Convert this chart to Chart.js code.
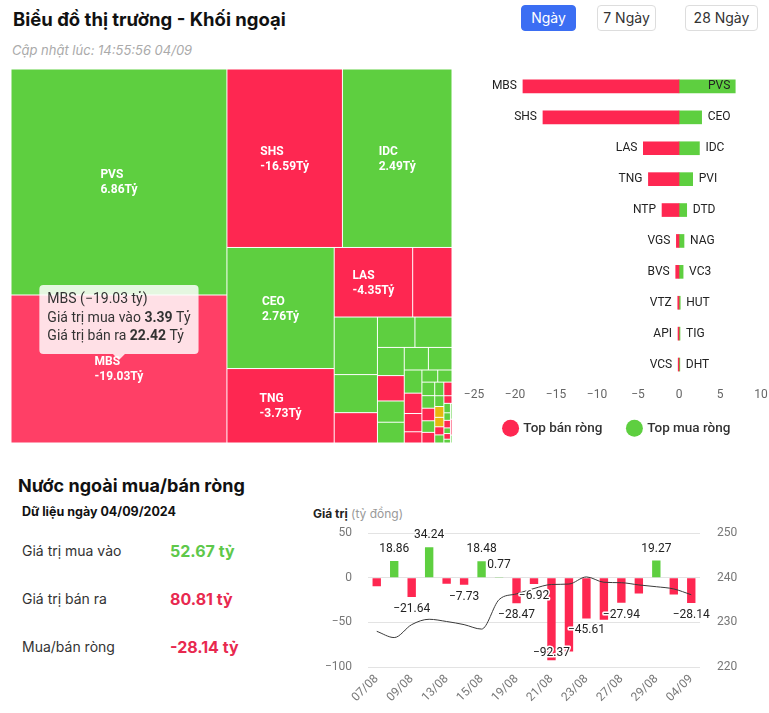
<!DOCTYPE html>
<html>
<head>
<meta charset="utf-8">
<script src="https://cdn.jsdelivr.net/npm/chart.js"></script>
<style>
html,body{margin:0;padding:0;background:#fff;width:769px;height:713px;overflow:hidden;font-family:Inter,"Noto Sans",sans-serif;}
.abs{position:absolute;white-space:nowrap;}
#title{left:13px;top:8px;font-size:18.5px;line-height:22px;font-weight:700;color:#111;}
#updated{left:12px;top:42px;font-size:13px;line-height:16px;font-style:italic;color:#aaa;}
.btn{position:absolute;top:5px;height:26px;line-height:24px;border:1px solid #ddd;border-radius:4px;font-size:14px;color:#333;text-align:center;box-sizing:border-box;background:#fff;}
.btn.active{background:#3b6ef3;border-color:#3b6ef3;color:#fff;}
canvas{position:absolute;}
#h2{left:18px;top:475px;font-size:18px;line-height:22px;font-weight:700;color:#111;}
#asof{left:22px;top:504px;font-size:12.5px;line-height:16px;font-weight:700;color:#111;}
.lbl{left:22px;font-size:14px;line-height:18px;color:#333;}
.val{left:170px;font-size:16px;line-height:20px;font-weight:700;}
#ctitle{left:313px;top:506px;font-size:12px;line-height:16px;color:#999;}
#ctitle b{color:#222;}
</style>
</head>
<body>
<div id="title" class="abs">Biểu đồ thị trường - Khối ngoại</div>
<div id="updated" class="abs">Cập nhật lúc: 14:55:56 04/09</div>
<div class="btn active" style="left:521px;width:55px;">Ngày</div>
<div class="btn" style="left:597px;width:59px;">7 Ngày</div>
<div class="btn" style="left:685px;width:73px;">28 Ngày</div>

<canvas id="tm" width="460" height="390" style="left:0;top:60px;width:460px;height:390px;"></canvas>
<canvas id="top" width="307" height="380" style="left:462px;top:65px;width:307px;height:380px;"></canvas>

<div id="h2" class="abs">Nước ngoài mua/bán ròng</div>
<div id="asof" class="abs"></div>
<div class="abs lbl" style="top:542px;">Giá trị mua vào</div>
<div class="abs lbl" style="top:590px;">Giá trị bán ra</div>
<div class="abs lbl" style="top:638px;">Mua/bán ròng</div>
<div id="vBuy" class="abs val" style="top:541px;color:#5ec84a;"></div>
<div id="vSell" class="abs val" style="top:589px;color:#e8294f;"></div>
<div id="vNet" class="abs val" style="top:637px;"></div>
<div id="ctitle" class="abs"><b>Giá trị</b> (tỷ đồng)</div>
<canvas id="flow" width="464" height="204" style="left:305px;top:509px;width:464px;height:204px;"></canvas>

<script>
// ================= DATA =================
// Treemap: ticker, total traded value (tỷ), net value (tỷ)
const tmTickers = ['PVS','MBS','SHS','IDC','CEO','TNG','LAS','NTP','PVI','DTD','BVS','NAG','VC3','HUT','VGS','TIG','DHT','PLC','L14','IDJ','VTZ','API','VCS','DL1','PVC','MST','SLS','NVB','PSD','S99','TVD','HLD','SCG','VNR','BCC','CSC','AMV','EVS','KLF','NBC','HHC','THD','TDN','NDN','VIG','WCS','DXP'];
const tmTotal = [39.41,25.81,16.65,15.79,10.49,6.45,4.41,2.21,2.01,1.33,1.06,0.92,0.91,0.61,0.55,0.46,0.45,0.44,0.43,0.33,0.29,0.26,0.16,0.155,0.14,0.14,0.13,0.13,0.12,0.11,0.10,0.09,0.08,0.08,0.07,0.06,0.06,0.05,0.05,0.04,0.04,0.03,0.03,0.02,0.02,0.02,0.01];
const tmNet = [6.86,-19.03,-16.59,2.49,2.76,-3.73,-4.35,-2.07,1.67,0.94,-0.40,0.60,0.50,0.15,-0.35,0.12,0.10,0.08,0.07,0.06,-0.15,-0.12,-0.10,0.05,0.04,0.03,0.02,-0.03,0.02,-0.02,0.02,-0.02,0.01,0,0,-0.01,0.01,-0.01,0.01,0.01,-0.01,0.01,-0.01,0.01,0.01,-0.01,0.01];
const hoveredTicker = 'MBS';

// Top net sellers / buyers
const sellTickers = ['MBS','SHS','LAS','TNG','NTP','VGS','BVS','VTZ','API','VCS'];
const sellValues = [-19.03,-16.59,-4.35,-3.73,-2.07,-0.32,-0.40,-0.15,-0.12,-0.10];
const buyTickers = ['PVS','CEO','IDC','PVI','DTD','NAG','VC3','HUT','TIG','DHT'];
const buyValues = [6.86,2.76,2.49,1.67,0.94,0.61,0.50,0.15,0.12,0.10];

// Daily foreign net flow
const dates = ['07/08','08/08','09/08','12/08','13/08','14/08','15/08','16/08','19/08','20/08','21/08','22/08','23/08','26/08','27/08','28/08','29/08','30/08','04/09'];
const netValues = [-9.42,18.86,-21.64,34.24,-6.81,-7.73,18.48,0.77,-28.47,-6.92,-92.37,-82.65,-45.61,-47.02,-27.94,-17.73,19.27,-18.84,-28.14];
const indexValues = [228.0,226.6,229.5,230.7,230.2,229.5,228.5,235.1,236.4,237.6,238.5,238.6,240.2,239.0,238.9,238.4,238.0,237.5,236.2];
const showLabel = [false,true,true,true,false,true,true,true,true,true,true,false,true,false,true,false,true,false,true];

const dataDate = '04/09/2024';
const buyToday = 52.67;
const sellToday = 80.81;

// ================= STYLE =================
const RED = '#fe2751';
const GREEN = '#5ecf40';
const YELLOW = '#e6b80f';
const HOVER_RED = '#ff3f66';
Chart.defaults.font.family = "Roboto, 'Noto Sans', sans-serif";
Chart.defaults.color = '#666';
const minus = s => String(s).replace('-', '\u2212');

// ---- left panel text ----
document.getElementById('asof').textContent = 'Dữ liệu ngày ' + dataDate;
document.getElementById('vBuy').textContent = buyToday.toFixed(2) + ' tỷ';
document.getElementById('vSell').textContent = sellToday.toFixed(2) + ' tỷ';
const netToday = buyToday - sellToday;
const vNet = document.getElementById('vNet');
vNet.textContent = netToday.toFixed(2) + ' tỷ';
vNet.style.color = netToday >= 0 ? '#5ec84a' : '#e8294f';

// ================= TREEMAP =================
function worst(row, side) {
  const s = row.reduce((a, b) => a + b, 0);
  const mx = Math.max(...row), mn = Math.min(...row);
  const s2 = s * s, f = side * side;
  return Math.max(f * mx / s2, s2 / (f * mn));
}
function squarify(values, x, y, w, h) {
  const total = values.reduce((a, b) => a + b, 0);
  const k = (w * h) / total;
  const areas = values.map(v => v * k);
  const rects = [];
  const r = { x, y, w, h };
  let i = 0, vertical = true;
  while (i < areas.length) {
    const side = vertical ? r.h : r.w;
    let row = [], best = Infinity;
    while (i < areas.length) {
      const cand = row.concat([areas[i]]);
      const s = worst(cand, side);
      if (row.length === 0 || s <= best) { row = cand; best = s; i++; } else break;
    }
    const sum = row.reduce((a, b) => a + b, 0);
    const thick = sum / side;
    let off = 0;
    row.forEach(a => {
      const len = a / thick;
      if (vertical) rects.push({ x: r.x, y: r.y + off, w: thick, h: len });
      else rects.push({ x: r.x + off, y: r.y, w: len, h: thick });
      off += len;
    });
    if (vertical) { r.x += thick; r.w -= thick; } else { r.y += thick; r.h -= thick; }
    vertical = !vertical;
  }
  return rects;
}

const treemapPlugin = {
  id: 'treemap',
  afterDatasetsDraw(chart) {
    const ctx = chart.ctx;
    const xs = chart.scales.x, ys = chart.scales.y;
    const X0 = xs.getPixelForValue(0), X1 = xs.getPixelForValue(1);
    const Y0 = ys.getPixelForValue(1), Y1 = ys.getPixelForValue(0);
    const order = tmTotal.map((v, i) => i).sort((a, b) => tmTotal[b] - tmTotal[a]);
    const rects = squarify(order.map(i => tmTotal[i]), X0, Y0, X1 - X0, Y1 - Y0);
    ctx.save();
    let hoverRect = null, hoverIdx = -1;
    rects.forEach((rc, k) => {
      const i = order[k];
      const net = tmNet[i];
      let col = net > 0 ? GREEN : (net < 0 ? RED : YELLOW);
      if (tmTickers[i] === hoveredTicker) { col = HOVER_RED; hoverRect = rc; hoverIdx = i; }
      ctx.fillStyle = col;
      ctx.fillRect(rc.x + 0.5, rc.y + 0.5, rc.w - 1, rc.h - 1);
    });
    // labels
    ctx.font = 'bold 12px Roboto, sans-serif';
    ctx.fillStyle = '#fff';
    ctx.textBaseline = 'middle';
    ctx.textAlign = 'left';
    rects.forEach((rc, k) => {
      const i = order[k];
      const l1 = tmTickers[i], l2 = tmNet[i].toFixed(2) + 'Tỷ';
      const tw = Math.max(ctx.measureText(l1).width, ctx.measureText(l2).width);
      if (tw + 8 > rc.w || 36 > rc.h) return;
      const cx = rc.x + rc.w / 2, cy = rc.y + rc.h / 2;
      ctx.fillText(l1, cx - tw / 2, cy - 6.5);
      ctx.fillText(l2, cx - tw / 2, cy + 8.5);
    });
    // tooltip for the hovered cell
    if (hoverRect) {
      const net = tmNet[hoverIdx], tot = tmTotal[hoverIdx];
      const buy = (tot + net) / 2, sell = (tot - net) / 2;
      const lines = [
        [[tmTickers[hoverIdx] + ' (' + minus(net.toFixed(2)) + ' tỷ)', false]],
        [['Giá trị mua vào ', false], [buy.toFixed(2), true], [' Tỷ', false]],
        [['Giá trị bán ra ', false], [sell.toFixed(2), true], [' Tỷ', false]]
      ];
      const fN = "14px Roboto, sans-serif", fB = "bold 14px Roboto, sans-serif";
      let maxW = 0;
      lines.forEach(parts => {
        let w = 0;
        parts.forEach(([t, b]) => { ctx.font = b ? fB : fN; w += ctx.measureText(t).width; });
        maxW = Math.max(maxW, w);
      });
      const padX = 8, lh = 18.5;
      const bw = maxW + padX * 2, bh = 69;
      const tipX = hoverRect.x + hoverRect.w / 2, tipY = hoverRect.y + hoverRect.h / 2 - 9;
      const bx = tipX - bw / 2, by = tipY - 6 - bh;
      ctx.fillStyle = 'rgba(255,255,255,0.84)';
      ctx.beginPath();
      const rr = 4;
      ctx.moveTo(bx + rr, by);
      ctx.lineTo(bx + bw - rr, by); ctx.quadraticCurveTo(bx + bw, by, bx + bw, by + rr);
      ctx.lineTo(bx + bw, by + bh - rr); ctx.quadraticCurveTo(bx + bw, by + bh, bx + bw - rr, by + bh);
      ctx.lineTo(tipX + 6, by + bh); ctx.lineTo(tipX, tipY); ctx.lineTo(tipX - 6, by + bh);
      ctx.lineTo(bx + rr, by + bh); ctx.quadraticCurveTo(bx, by + bh, bx, by + bh - rr);
      ctx.lineTo(bx, by + rr); ctx.quadraticCurveTo(bx, by, bx + rr, by);
      ctx.closePath();
      ctx.fill();
      ctx.fillStyle = '#333';
      ctx.textBaseline = 'middle';
      lines.forEach((parts, li) => {
        let x = bx + padX;
        const y = by + 15 + li * lh;
        parts.forEach(([t, b]) => { ctx.font = b ? fB : fN; ctx.fillText(t, x, y); x += ctx.measureText(t).width; });
      });
    }
    ctx.restore();
  }
};

new Chart(document.getElementById('tm'), {
  type: 'scatter',
  data: { datasets: [{ data: [] }] },
  options: {
    responsive: false, animation: false, events: [],
    layout: { padding: { left: 11, right: 8, top: 9, bottom: 7 } },
    scales: { x: { display: false, min: 0, max: 1 }, y: { display: false, min: 0, max: 1 } },
    plugins: { legend: { display: false }, tooltip: { enabled: false } }
  },
  plugins: [treemapPlugin]
});

// ================= TOP BUY / SELL BARS =================
const barNamePlugin = {
  id: 'barNames',
  afterDatasetsDraw(chart) {
    const ctx = chart.ctx, area = chart.chartArea;
    ctx.save();
    ctx.font = '12px Roboto, sans-serif';
    ctx.fillStyle = '#222';
    ctx.textBaseline = 'middle';
    chart.data.datasets.forEach((ds, di) => {
      const meta = chart.getDatasetMeta(di);
      meta.data.forEach((bar, i) => {
        const name = ds.names[i];
        const left = Math.min(bar.x, bar.base), right = Math.max(bar.x, bar.base);
        const w = ctx.measureText(name).width;
        if (ds.side === 'sell') {
          ctx.textAlign = 'right'; ctx.fillText(name, left - 6, bar.y);
        } else if (right + 6 + w > area.right) {
          ctx.textAlign = 'right'; ctx.fillText(name, right - 5, bar.y);
        } else {
          ctx.textAlign = 'left'; ctx.fillText(name, right + 6, bar.y);
        }
      });
    });
    ctx.restore();
  }
};

new Chart(document.getElementById('top'), {
  type: 'bar',
  data: {
    labels: sellTickers.map((s, i) => s + '/' + buyTickers[i]),
    datasets: [
      { label: 'Top bán ròng', data: sellValues, names: sellTickers, side: 'sell', backgroundColor: RED, barThickness: 13 },
      { label: 'Top mua ròng', data: buyValues, names: buyTickers, side: 'buy', backgroundColor: GREEN, barThickness: 13 }
    ]
  },
  options: {
    indexAxis: 'y',
    responsive: false, animation: false, events: [],
    layout: { padding: { left: 12, right: 8, top: 6, bottom: 0 } },
    scales: {
      y: { display: false, stacked: true },
      x: {
        stacked: true, min: -25, max: 10,
        grid: { display: false, drawTicks: false }, border: { display: false },
        ticks: { stepSize: 5, padding: 8, color: '#666', font: { size: 12 }, callback: v => minus(v) },
        afterFit(s) {
          s.height = 15.5;
          s.paddingLeft = 0; s.paddingRight = 0;
          s._computeLabelArea = () => null;
        }
      }
    },
    plugins: {
      tooltip: { enabled: false },
      legend: {
        position: 'bottom',
        labels: { usePointStyle: true, pointStyle: 'circle', boxWidth: 12, boxHeight: 12, padding: 26, color: '#333', font: { size: 13.5, weight: '500' } }
      }
    }
  },
  plugins: [barNamePlugin]
});

// ================= DAILY FLOW COMBO =================
const flowLabelPlugin = {
  id: 'flowLabels',
  afterDatasetsDraw(chart) {
    const ctx = chart.ctx, area = chart.chartArea;
    const meta = chart.getDatasetMeta(1);
    ctx.save();
    ctx.font = '12px Roboto, sans-serif';
    ctx.textAlign = 'center';
    ctx.textBaseline = 'middle';
    ctx.lineWidth = 3;
    ctx.lineJoin = 'round';
    ctx.strokeStyle = '#fff';
    ctx.fillStyle = '#222';
    meta.data.forEach((bar, i) => {
      if (!showLabel[i]) return;
      const v = netValues[i];
      let y = v >= 0 ? bar.y - 12 : bar.y + 12;
      y = Math.min(y, area.bottom - 14);
      const t = minus(v.toFixed(2));
      ctx.strokeText(t, bar.x, y);
      ctx.fillText(t, bar.x, y);
    });
    ctx.restore();
  }
};

new Chart(document.getElementById('flow'), {
  data: {
    labels: dates,
    datasets: [
      { type: 'line', label: 'Chỉ số', data: indexValues, yAxisID: 'y1', borderColor: '#3a3a3a', borderWidth: 1, pointRadius: 0, cubicInterpolationMode: 'monotone', order: 0 },
      { type: 'bar', label: 'Mua/bán ròng', data: netValues, yAxisID: 'y', backgroundColor: netValues.map(v => v >= 0 ? GREEN : RED), categoryPercentage: 1, barPercentage: 0.48, order: 1 }
    ]
  },
  options: {
    responsive: false, animation: false, events: [],
    layout: { padding: { top: 0, left: 0, right: 0, bottom: 0 } },
    scales: {
      x: {
        grid: { display: false, drawTicks: false }, border: { display: false },
        ticks: { autoSkip: false, maxRotation: 45, minRotation: 45, padding: 5, color: '#777', font: { size: 12 }, callback: (v, i) => (i % 2 === 0 ? dates[i] : '') },
        afterFit(s) { s.height = 46; }
      },
      y: {
        position: 'left', min: -100, max: 50,
        grid: { color: '#e3e3e3', drawTicks: false }, border: { display: false },
        ticks: { stepSize: 50, padding: 16, color: '#777', font: { size: 12 }, callback: v => minus(v) },
        afterFit(s) { s.width = 63; }
      },
      y1: {
        position: 'right', min: 220, max: 250,
        grid: { display: false, drawTicks: false }, border: { display: false },
        ticks: { stepSize: 10, padding: 17, color: '#777', font: { size: 12 } },
        afterFit(s) { s.width = 69; }
      }
    },
    plugins: { legend: { display: false }, tooltip: { enabled: false } }
  },
  plugins: [flowLabelPlugin]
});
</script>
</body>
</html>
